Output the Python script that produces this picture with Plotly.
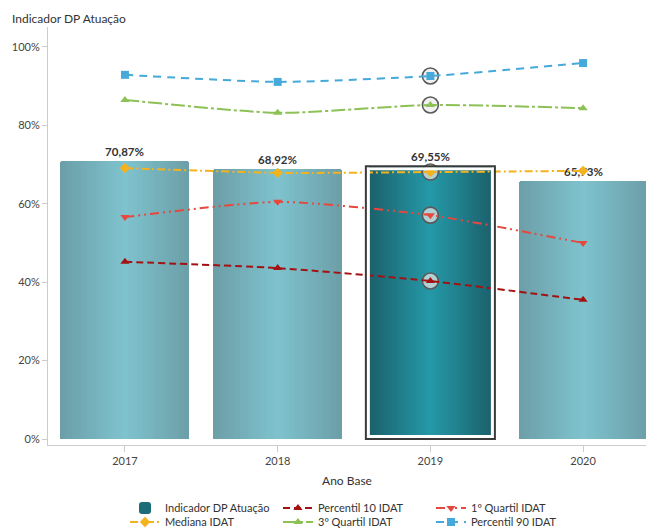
import plotly.graph_objects as go

# Indicator values per base year (percent)
years = ["2017", "2018", "2019", "2020"]
idp_atuacao = [70.87, 68.92, 69.55, 65.73]
percentil_10 = [45.2, 43.6, 40.3, 35.5]
quartil_1 = [56.6, 60.5, 57.1, 50.0]
mediana = [69.1, 67.9, 68.1, 68.4]
quartil_3 = [86.5, 83.2, 85.2, 84.4]
percentil_90 = [92.9, 91.1, 92.6, 95.9]
y_ticks = [0, 20, 40, 60, 80, 100]
y_tick_labels = ["0%", "20%", "40%", "60%", "80%", "100%"]

selected_year = "2019"
sel = years.index(selected_year)

FONT = "Lato, 'Noto Sans', sans-serif"
BAR_W = 0.845
N_LAYERS = 22

# plot geometry (used to convert a few pixel paddings into axis units)
PLOT_L, PLOT_R, PLOT_T, PLOT_B = 48, 0, 27, 84
W, H = 646, 529
X_RANGE = [-0.504, 3.412]
Y_RANGE = [-1.53, 105.1]
px_x = (W - PLOT_L - PLOT_R) / (X_RANGE[1] - X_RANGE[0])
px_y = (H - PLOT_T - PLOT_B) / (Y_RANGE[1] - Y_RANGE[0])


def hex_rgb(h):
    h = h.lstrip("#")
    return [int(h[i:i + 2], 16) for i in (0, 2, 4)]


def mix(a, b, t):
    ca, cb = hex_rgb(a), hex_rgb(b)
    return "rgb(%d,%d,%d)" % tuple(round(ca[i] + (cb[i] - ca[i]) * t) for i in range(3))


EDGE, CENTER = "#6c9fa8", "#7ec2cd"
SEL_EDGE, SEL_CENTER = "#1a5f6a", "#2598a7"

# put the selected year first so the legend swatch takes its colour
order = [sel] + [i for i in range(len(years)) if i != sel]
xs = [years[i] for i in order]
ys = [idp_atuacao[i] for i in order]

fig = go.Figure()

# bars: overlay layers that narrow toward the centre to form a horizontal gradient
legend_layer = N_LAYERS // 4
for k in range(N_LAYERS):
    t = k / (N_LAYERS - 1)
    width = BAR_W * (1 - k / N_LAYERS)
    cols = [mix(SEL_EDGE, SEL_CENTER, t) if i == sel else mix(EDGE, CENTER, t) for i in order]
    if k == 0:
        cols = ["#ffffff" if i == sel else c for i, c in zip(order, cols)]
    fig.add_trace(go.Bar(
        x=xs, y=ys, width=[width] * len(xs),
        marker=dict(color=cols, line=dict(width=0)),
        name="Indicador DP Atuação",
        showlegend=(k == legend_layer),
        legend="legend",
        hoverinfo="skip" if k else "y",
        texttemplate="%{y:.2f}%" if k == 0 else None,
        textposition="outside" if k == 0 else "none",
        textfont=dict(family=FONT, size=11.5, color="#333333", weight="bold"),
        cliponaxis=False,
    ))

# highlight rings on the selected year's points
fig.add_trace(go.Scatter(
    x=[selected_year] * 5,
    y=[s[sel] for s in (percentil_10, quartil_1, mediana, quartil_3, percentil_90)],
    mode="markers",
    marker=dict(symbol="circle", size=16, color="rgba(235,235,235,0.7)",
                line=dict(color="#5a5a5a", width=1.6)),
    showlegend=False, hoverinfo="skip",
))

# (name, values, colour, dash, marker, legend row)
series = [
    ("Percentil 10 IDAT", percentil_10, "#a31212", "7px,4px", "triangle-up", "legend"),
    ("1º Quartil IDAT", quartil_1, "#e5483c", "9px,4px,2px,4px,2px,4px", "triangle-down", "legend"),
    ("Mediana IDAT", mediana, "#f4b21e", "8px,3px,2px,3px", "diamond", "legend2"),
    ("3º Quartil IDAT", quartil_3, "#8cc155", "14px,3px,3px,3px", "triangle-up", "legend2"),
    ("Percentil 90 IDAT", percentil_90, "#45a9d9", "8px,6px", "square", "legend2"),
]
for name, vals, color, dash, symbol, leg in series:
    fig.add_trace(go.Scatter(
        x=years, y=vals, name=name, mode="lines+markers",
        line=dict(color=color, width=2, dash=dash, shape="spline", smoothing=0.6),
        marker=dict(symbol=symbol, size=8, color=color),
        legend=leg,
    ))

# outline around the selected bar: dark frame with a white gap inside
gx = 2.5 / px_x
gy = 2.5 / px_y
fig.add_shape(type="rect", xref="x", yref="y", layer="above",
              x0=sel - BAR_W / 2 + gx, x1=sel + BAR_W / 2 - gx,
              y0=0 + gy, y1=idp_atuacao[sel] - gy,
              line=dict(color="#ffffff", width=3), fillcolor="rgba(0,0,0,0)")
fig.add_shape(type="rect", xref="x", yref="y", layer="above",
              x0=sel - BAR_W / 2, x1=sel + BAR_W / 2,
              y0=0, y1=idp_atuacao[sel],
              line=dict(color="#3a3a3a", width=2), fillcolor="rgba(0,0,0,0)")

fig.add_annotation(text="Indicador DP Atuação", xref="paper", yref="paper",
                   x=-38 / (W - PLOT_L - PLOT_R), y=1 + 9 / (H - PLOT_T - PLOT_B),
                   xanchor="left", yanchor="middle", showarrow=False,
                   font=dict(family=FONT, size=12, color="#333333"))

legend_common = dict(orientation="h", xref="container", yref="container",
                     x=125 / W, xanchor="left", yanchor="middle",
                     font=dict(family=FONT, size=11, color="#333333"),
                     entrywidth=108, traceorder="normal", itemwidth=30,
                     bgcolor="rgba(0,0,0,0)")

fig.update_layout(
    width=W, height=H,
    margin=dict(l=PLOT_L, r=PLOT_R, t=PLOT_T, b=PLOT_B, pad=0),
    paper_bgcolor="#ffffff", plot_bgcolor="#ffffff",
    barmode="overlay", bargap=0,
    barcornerradius=3,
    separators=",.",
    font=dict(family=FONT, size=11, color="#444444"),
    xaxis=dict(type="category", categoryorder="array", categoryarray=years,
               range=X_RANGE, showgrid=False, showline=True, linecolor="#cccccc",
               linewidth=1, ticks="outside", ticklen=6, tickcolor="#cccccc",
               tickfont=dict(size=11, color="#444444"),
               title=dict(text="Ano Base", font=dict(size=12, color="#333333"), standoff=10),
               zeroline=False, fixedrange=True),
    yaxis=dict(range=Y_RANGE, tickmode="array", tickvals=y_ticks, ticktext=y_tick_labels,
               showgrid=False, showline=True, linecolor="#cccccc", linewidth=1,
               ticks="outside", ticklen=5, tickcolor="#cccccc",
               tickfont=dict(size=11, color="#444444"), zeroline=False, fixedrange=True),
    legend=dict(y=1 - 508 / H, **legend_common),
    legend2=dict(y=1 - 522 / H, **legend_common),
    showlegend=True,
)

fig.write_html("out.html")
